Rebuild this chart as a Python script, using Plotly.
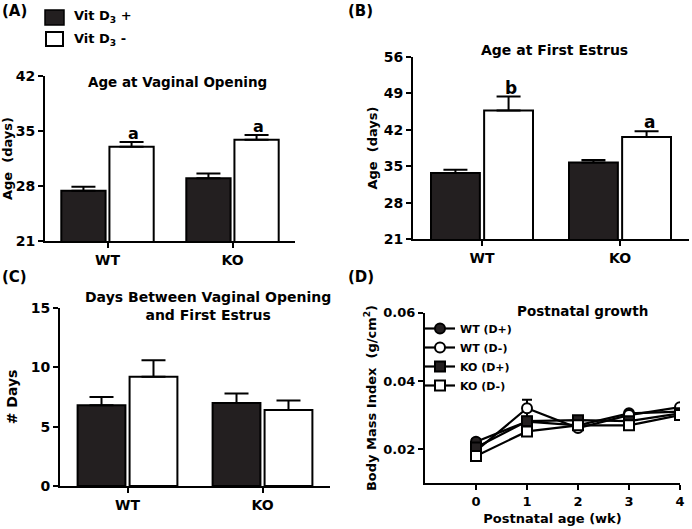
import plotly.graph_objects as go

W, H = 692, 529

genotypes = ["WT", "KO"]

# Panel A: Age at vaginal opening (days)
vo_dplus = [27.4, 29.0]
vo_dplus_err = [0.5, 0.6]
vo_dminus = [33.0, 33.9]
vo_dminus_err = [0.6, 0.6]
vo_letters = ["a", "a"]

# Panel B: Age at first estrus (days)
fe_dplus = [33.7, 35.7]
fe_dplus_err = [0.6, 0.5]
fe_dminus = [45.7, 40.6]
fe_dminus_err = [2.7, 1.1]
fe_letters = ["b", "a"]

# Panel C: Days between VO and first estrus
db_dplus = [6.8, 7.0]
db_dplus_err = [0.7, 0.8]
db_dminus = [9.2, 6.4]
db_dminus_err = [1.4, 0.8]

# Panel D: Postnatal growth (BMI g/cm^2)
weeks = [0, 1, 2, 3, 4]
wt_dplus = [0.0222, 0.0281, 0.0270, 0.0305, 0.0310]
wt_dplus_err = [0.0008, 0.0008, 0.0006, 0.0006, 0.0006]
wt_dminus = [0.0195, 0.0320, 0.0262, 0.0300, 0.0323]
wt_dminus_err = [0.0010, 0.0025, 0.0006, 0.0006, 0.0006]
ko_dplus = [0.0205, 0.0282, 0.0285, 0.0282, 0.0305]
ko_dplus_err = [0.0008, 0.0010, 0.0006, 0.0006, 0.0006]
ko_dminus = [0.0180, 0.0252, 0.0270, 0.0270, 0.0300]
ko_dminus_err = [0.0015, 0.0010, 0.0006, 0.0008, 0.0006]

BLACK = "#231f20"
FONT = "DejaVu Sans"


def px(x):
    return x / W


def py(y):
    return 1 - y / H


def f(size):
    return dict(family=FONT, size=size, color="black", weight="bold")


fig = go.Figure()


def add_bars(xa, ya, plus, plus_err, minus, minus_err):
    fig.add_trace(go.Bar(
        x=genotypes, y=plus, xaxis=xa, yaxis=ya, showlegend=False,
        marker=dict(color=BLACK, line=dict(color="black", width=2)),
        error_y=dict(type="data", array=plus_err, arrayminus=[0] * len(plus),
                     symmetric=False, color="black", thickness=2, width=12),
        hoverinfo="skip"))
    fig.add_trace(go.Bar(
        x=genotypes, y=minus, xaxis=xa, yaxis=ya, showlegend=False,
        marker=dict(color="white", line=dict(color="black", width=2)),
        error_y=dict(type="data", array=minus_err, arrayminus=[0] * len(minus),
                     symmetric=False, color="black", thickness=2, width=12),
        hoverinfo="skip"))


add_bars("x", "y", vo_dplus, vo_dplus_err, vo_dminus, vo_dminus_err)
add_bars("x2", "y2", fe_dplus, fe_dplus_err, fe_dminus, fe_dminus_err)
add_bars("x3", "y3", db_dplus, db_dplus_err, db_dminus, db_dminus_err)

series_d = [
    ("WT (D+)", wt_dplus, wt_dplus_err, "circle", BLACK),
    ("WT (D-)", wt_dminus, wt_dminus_err, "circle", "white"),
    ("KO (D+)", ko_dplus, ko_dplus_err, "square", BLACK),
    ("KO (D-)", ko_dminus, ko_dminus_err, "square", "white"),
]
for name, vals, errs, sym, fill in series_d:
    fig.add_trace(go.Scatter(
        x=weeks, y=vals, xaxis="x4", yaxis="y4", name=name,
        mode="lines+markers", legend="legend",
        line=dict(color="black", width=2.2),
        marker=dict(symbol=sym, size=10, color=fill, line=dict(color="black", width=2)),
        error_y=dict(type="data", array=errs, color="black", thickness=2, width=5),
        hoverinfo="skip"))

axis_common = dict(showline=True, linecolor="black", linewidth=2, ticks="outside",
                   tickwidth=2, ticklen=5, tickcolor="black", showgrid=False,
                   zeroline=False, fixedrange=True, automargin=False)

fig.update_layout(
    width=W, height=H,
    margin=dict(l=0, r=0, t=0, b=0, pad=0, autoexpand=False),
    paper_bgcolor="white", plot_bgcolor="white",
    font=dict(family=FONT, color="black", weight="bold"),
    barmode="group", bargap=0.23, bargroupgap=0.08,
    showlegend=True,
    xaxis=dict(domain=[px(45), px(295)], anchor="y", range=[-0.5, 1.5], tickfont=f(14), **axis_common),
    yaxis=dict(domain=[py(241), py(76)], anchor="x", range=[21, 42], tickvals=[21, 28, 35, 42],
               tickfont=f(14),
               title=dict(text="Age  (days)", font=f(13), standoff=3), **axis_common),
    xaxis2=dict(domain=[px(413), px(689)], anchor="y2", range=[-0.5, 1.5], tickfont=f(14), **axis_common),
    yaxis2=dict(domain=[py(239), py(57)], anchor="x2", range=[21, 56],
                tickvals=[21, 28, 35, 42, 49, 56], tickfont=f(14),
                title=dict(text="Age  (days)", font=f(13), standoff=3), **axis_common),
    xaxis3=dict(domain=[px(60), px(330)], anchor="y3", range=[-0.5, 1.5], tickfont=f(14), **axis_common),
    yaxis3=dict(domain=[py(486), py(308)], anchor="x3", range=[0, 15], tickvals=[0, 5, 10, 15],
                tickfont=f(14),
                title=dict(text="# Days", font=f(14), standoff=10), **axis_common),
    xaxis4=dict(domain=[px(425), px(680)], anchor="y4", range=[-1, 4], tickvals=[0, 1, 2, 3, 4],
                tickfont=f(13),
                title=dict(text="Postnatal age (wk)", font=f(13), standoff=6),
                **axis_common),
    yaxis4=dict(domain=[py(483.3), py(312.7)], anchor="x4", range=[0.01, 0.06],
                tickvals=[0.02, 0.04, 0.06], tickformat=".2f", tickfont=f(13),
                title=dict(text="Body Mass Index  (g/cm<sup>2</sup>)", font=f(13), standoff=4),
                **axis_common),
    legend=dict(x=px(420), y=py(314), xanchor="left", yanchor="top",
                bgcolor="rgba(0,0,0,0)", itemwidth=30, tracegroupgap=0,
                font=f(11)),
)

annotations = []
# panel labels
for label, x, y in [("(A)", 0, 0), ("(B)", 346, 0), ("(C)", 0, 266), ("(D)", 346, 266)]:
    annotations.append(dict(text=label, x=px(x), y=py(y), xref="paper", yref="paper",
                            xanchor="left", yanchor="top", showarrow=False, font=f(15)))
# panel titles
for text, x, y, s in [("Age at Vaginal Opening", 177, 82, 13.5), ("Age at First Estrus", 554, 50, 14),
                      ("Days Between Vaginal Opening<br>and First Estrus", 208, 306, 14),
                      ("Postnatal growth", 582, 311, 13.5)]:
    annotations.append(dict(text=text, x=px(x), y=py(y), xref="paper", yref="paper",
                            xanchor="center", yanchor="middle", showarrow=False, font=f(s)))
# significance letters
for xa, ya, vals, errs, letters in [("x", "y", vo_dminus, vo_dminus_err, vo_letters),
                                    ("x2", "y2", fe_dminus, fe_dminus_err, fe_letters)]:
    for g, v, e, l in zip(genotypes, vals, errs, letters):
        annotations.append(dict(text=l, x=g, y=v + e, xref=xa, yref=ya,
                                xshift=26 if xa == "x" else 29,
                                yanchor="bottom", showarrow=False, yshift=-3,
                                font=f(17 if xa == "x2" else 16)))
# bar legend text
for text, y in [("Vit D<sub>3</sub> +", 17), ("Vit D<sub>3</sub> -", 39)]:
    annotations.append(dict(text=text, x=px(72), y=py(y), xref="paper", yref="paper",
                            xanchor="left", yanchor="middle", showarrow=False, font=f(13)))
fig.update_layout(annotations=annotations)

# bar legend swatches
fig.add_shape(type="rect", xref="paper", yref="paper", x0=px(45), x1=px(64), y0=py(25), y1=py(10),
              fillcolor=BLACK, line=dict(color="black", width=1.5))
fig.add_shape(type="rect", xref="paper", yref="paper", x0=px(46), x1=px(63), y0=py(46), y1=py(32),
              fillcolor="white", line=dict(color="black", width=2))

fig.write_html("out.html", config={"displayModeBar": False},
               post_script="document.body.style.margin='0px';")
